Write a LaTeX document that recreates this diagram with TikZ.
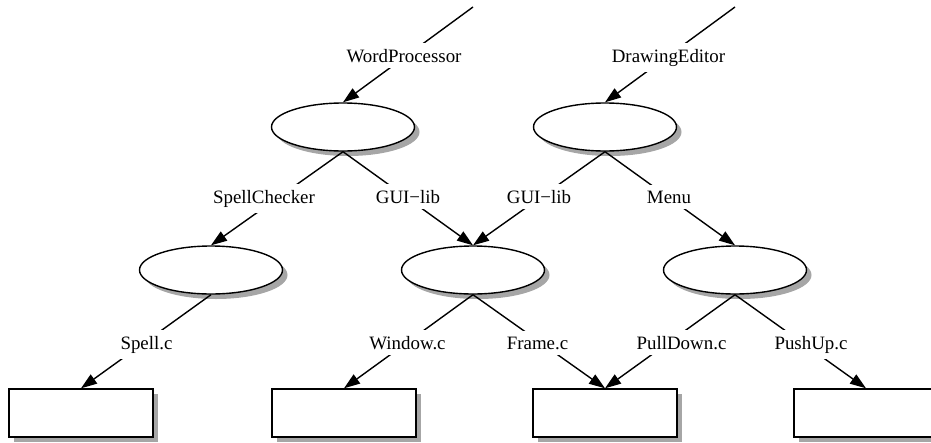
\documentclass[tikz,border=0pt]{standalone}
\usepackage{fontspec}
\setmainfont{Liberation Serif}
\usetikzlibrary{arrows.meta,shapes.geometric,shadows}
\tikzset{
  every picture/.style={x=1pt,y=-1pt},
  oval/.style={ellipse,draw,line width=1.4pt,fill=white,minimum width=143pt,minimum height=48pt,inner sep=0pt,
    drop shadow={shadow xshift=5pt,shadow yshift=-5pt,fill=black!35,opacity=1}},
  file/.style={rectangle,draw,line width=1.4pt,fill=white,minimum width=144pt,minimum height=48pt,inner sep=0pt,
    drop shadow={shadow xshift=5pt,shadow yshift=-5pt,fill=black!35,opacity=1}},
  lbl/.style={fill=white,inner xsep=3pt,inner ysep=6pt,anchor=base,font=\fontsize{18.9pt}{22pt}\selectfont},
  conn/.style={line width=1.4pt,-{Triangle[length=16pt,width=11pt]}},
}
\begin{document}
\begin{tikzpicture}
\useasboundingbox (0,0) rectangle (931,442);
\clip (0,0) rectangle (931,442);
% nodes
\node[oval] (e1) at (343,127) {};
\node[oval] (e2) at (605,127) {};
\node[oval] (e3) at (211,270) {};
\node[oval] (e4) at (473,270) {};
\node[oval] (e5) at (735,270) {};
\node[file] (r1) at (81,413) {};
\node[file] (r2) at (344,413) {};
\node[file] (r3) at (605,413) {};
\node[file] (r4) at (866,413) {};
\coordinate (t1) at (473,7);
\coordinate (t2) at (735,7);
% connectors
\draw[conn] (t1) -- (e1.north);
\draw[conn] (t2) -- (e2.north);
\draw[conn] (e1.south) -- (e3.north);
\draw[conn] (e1.south) -- (e4.north);
\draw[conn] (e2.south) -- (e4.north);
\draw[conn] (e2.south) -- (e5.north);
\draw[conn] (e3.south) -- (r1.north);
\draw[conn] (e4.south) -- (r2.north);
\draw[conn] (e4.south) -- (r3.north);
\draw[conn] (e5.south) -- (r3.north);
\draw[conn] (e5.south) -- (r4.north);
% labels
\node[lbl] (l1) at (404,62) {WordProcessor};
\node[lbl] (l2) at (668.5,62) {DrawingEditor};
\node[lbl] (l3) at (264,203) {SpellChecker};
\node[lbl] (l4) at (408,203) {GUI\char"2212 lib};
\node[lbl] (l5) at (539,203) {GUI\char"2212 lib};
\node[lbl] (l6) at (669,203) {Menu};
\node[lbl] (l7) at (146.5,349) {Spell.c};
\node[lbl] (l8) at (407.5,349) {Window.c};
\node[lbl] (l9) at (537.5,349) {Frame.c};
\node[lbl] (l10) at (681.5,349) {PullDown.c};
\node[lbl] (l11) at (811,349) {PushUp.c};
\end{tikzpicture}
\end{document}
